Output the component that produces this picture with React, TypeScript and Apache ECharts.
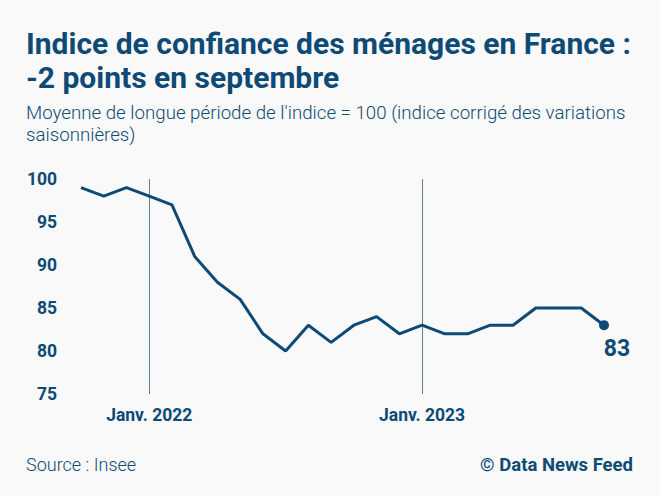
import React, { useEffect, useRef } from "react";
import * as echarts from "echarts";

const months = [
  "2021-10", "2021-11", "2021-12",
  "2022-01", "2022-02", "2022-03", "2022-04", "2022-05", "2022-06",
  "2022-07", "2022-08", "2022-09", "2022-10", "2022-11", "2022-12",
  "2023-01", "2023-02", "2023-03", "2023-04", "2023-05", "2023-06",
  "2023-07", "2023-08", "2023-09",
];
const values = [
  99, 98, 99,
  98, 97, 91, 88, 86, 82,
  80, 83, 81, 83, 84, 82,
  83, 82, 82, 83, 83, 85,
  85, 85, 83,
];
const yearMarks = ["2022-01", "2023-01"];
const yearLabels = ["Janv. 2022", "Janv. 2023"];

const title = "Indice de confiance des ménages en France :\n-2 points en septembre";
const subtitle = "Moyenne de longue période de l'indice = 100 (indice corrigé des variations\nsaisonnières)";
const source = "Source : Insee";
const credit = "© Data News Feed";

const DARK = "#0d4a75";
const BG = "#f9f9f9";

export default function App() {
  const ref = useRef<HTMLDivElement>(null);
  useEffect(() => {
    if (!ref.current) return;
    const chart = echarts.init(ref.current, null, { renderer: "svg" });
    const lastIdx = values.length - 1;
    chart.setOption({
      animation: false,
      backgroundColor: BG,
      textStyle: { fontFamily: "Roboto" },
      grid: { left: 81, right: 56, top: 179, bottom: 102, containLabel: false },
      xAxis: {
        type: "category",
        data: months,
        boundaryGap: false,
        axisLine: { show: false },
        axisTick: { show: false },
        splitLine: { show: false },
        axisLabel: {
          interval: (i: number, v: string) => yearMarks.includes(v),
          formatter: (v: string) => {
            const k = yearMarks.indexOf(v);
            return k >= 0 ? yearLabels[k] : "";
          },
          color: DARK,
          fontFamily: "Roboto",
          fontWeight: "bold",
          fontSize: 17.5,
          margin: 12,
        },
      },
      yAxis: {
        type: "value",
        min: 75,
        max: 100,
        interval: 5,
        axisLine: { show: false },
        axisTick: { show: false },
        splitLine: { show: false },
        axisLabel: {
          color: DARK,
          fontFamily: "Roboto",
          fontWeight: "bold",
          fontSize: 17.5,
          margin: 24,
        },
      },
      series: [
        {
          type: "line",
          data: values.map((v, i) =>
            i === lastIdx
              ? {
                  value: v,
                  symbol: "circle",
                  symbolSize: 10,
                  itemStyle: { color: DARK },
                  label: {
                    show: true,
                    position: "bottom",
                    offset: [13, 2],
                    formatter: "{c}",
                    color: DARK,
                    fontFamily: "Roboto",
                    fontWeight: "bold",
                    fontSize: 23,
                  },
                }
              : { value: v, symbol: "none" }
          ),
          showSymbol: true,
          lineStyle: { color: DARK, width: 3 },
          itemStyle: { color: DARK },
          z: 3,
          markLine: {
            silent: true,
            symbol: "none",
            label: { show: false },
            lineStyle: { color: "#5d7f9c", width: 1, type: "solid" },
            data: yearMarks.map((m) => ({ xAxis: m })),
            z: 1,
          },
        },
      ],
      graphic: [
        {
          type: "text",
          left: 26,
          top: 26,
          style: {
            text: title,
            fill: DARK,
            font: "bold 30px Roboto",
            lineHeight: 34,
          },
        },
        {
          type: "text",
          left: 26,
          top: 102,
          style: {
            text: subtitle,
            fill: DARK,
            font: "300 18.7px Roboto",
            lineHeight: 22,
          },
        },
        {
          type: "text",
          left: 26,
          top: 455,
          style: {
            text: source,
            fill: DARK,
            font: "300 18px Roboto",
          },
        },
        {
          type: "text",
          right: 27,
          top: 455,
          style: {
            text: credit,
            fill: DARK,
            font: "bold 18.5px Roboto",
          },
        },
      ],
    });
    return () => chart.dispose();
  }, []);
  return (
    <div
      ref={ref}
      style={{ position: "fixed", left: 0, top: 0, width: 660, height: 496, background: BG }}
    />
  );
}
